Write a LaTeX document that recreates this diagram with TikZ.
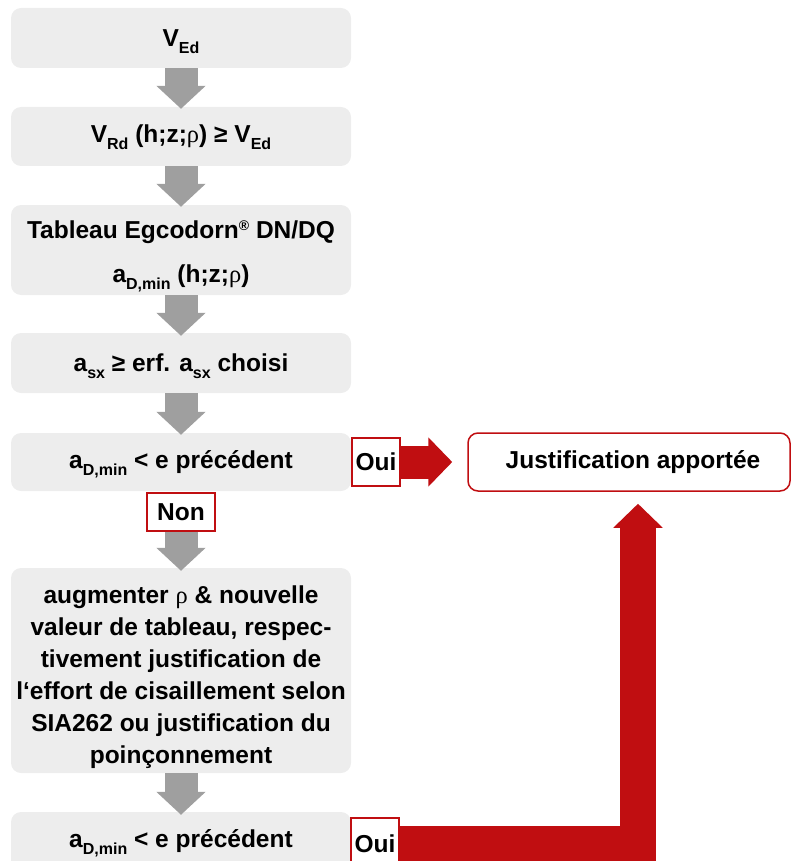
\documentclass[tikz,border=0pt]{standalone}
\usepackage{fontspec}
\setmainfont{Liberation Sans}
\newfontfamily\rhofont{Liberation Serif}
\usetikzlibrary{arrows.meta}
\definecolor{boxgray}{HTML}{EDEDED}
\definecolor{arrgray}{HTML}{9F9F9F}
\definecolor{egred}{HTML}{C00E11}
\newcommand\myrho{{\rhofont\mdseries ρ}}
\newcommand\lo[1]{\raisebox{-7pt}[0pt][0pt]{\fontsize{16}{16}\selectfont #1}}
\newcommand\regmark{\raisebox{8pt}[0pt][0pt]{\fontsize{14}{14}\selectfont ®}}
\begin{document}
\begin{tikzpicture}[x=1pt,y=-1pt,
 box/.style={fill=boxgray, rounded corners=10pt, minimum width=340pt, inner sep=0pt, align=center, font=\fontsize{24.5}{32}\selectfont\bfseries},
 tag/.style={draw=egred, line width=1.5pt, fill=white, inner sep=0pt, font=\fontsize{24.5}{28}\selectfont\bfseries},
 grayarrow/.style={draw=arrgray, line width=33pt, -{Triangle[width=48pt,length=23pt]}},
 redarrow/.style={draw=egred, line width=33pt, line join=miter, -{Triangle[width=48pt,length=24pt]}}]
\useasboundingbox (0,0) rectangle (792,861);
\clip (0,0) rectangle (792,861);

\node[box, minimum height=60pt] (b1) at (181,38) {V\lo{Ed}};
\node[box, minimum height=59pt] (b2) at (181,136.5) {V\lo{Rd} (h;z;\myrho) ≥ V\lo{Ed}};
\node[box, minimum height=90pt] (b3) at (181,250) {\rule{0pt}{26pt}Tableau Egcodorn\regmark{} DN/DQ\\[12pt] a\lo{D,min} (h;z;\myrho)};
\node[box, minimum height=60pt] (b4) at (181,363) {a\lo{sx} ≥ erf. a\lo{sx} choisi};
\node[box, minimum height=58pt] (b5) at (181,462) {a\lo{D,min} < e précédent};
\node[tag, minimum width=68pt, minimum height=38pt] (non) at (181,512) {Non};
\node[box, minimum height=205pt] (b6) at (181,670.5) {\rule{0pt}{32pt}augmenter \myrho{} \& nouvelle\\valeur de tableau, respec-\\tivement justification de\\l‘effort de cisaillement selon\\SIA262 ou justification du\\poinçonnement};
\node[box, minimum height=58pt] (b7) at (181,841) {a\lo{D,min} < e précédent};
\node[tag, minimum width=48pt, minimum height=48pt] (oui1) at (376,462) {Oui};
\node[tag, minimum width=48pt, minimum height=52pt] (oui2) at (375,844) {Oui};
\node[draw=egred, line width=1.5pt, rounded corners=10pt, minimum width=322pt, minimum height=58pt, font=\fontsize{24.5}{28}\selectfont\bfseries] (just) at (629,462) {\hspace*{8pt}Justification apportée};

\draw[grayarrow] (b1.south) -- ([yshift=-2pt]b2.north);
\draw[grayarrow] (b2.south) -- ([yshift=-2pt]b3.north);
\draw[grayarrow] (b3.south) -- ([yshift=-3pt]b4.north);
\draw[grayarrow] (b4.south) -- ([yshift=-2pt]b5.north);
\draw[grayarrow] (non.south) -- ([yshift=-3pt]b6.north);
\draw[grayarrow] (b6.south) -- ([yshift=-3pt]b7.north);

\draw[redarrow] (oui1.east) -- ([xshift=-15pt]just.west);
\draw[redarrow, line width=36pt] (oui2.east) -| ([xshift=9pt,yshift=-12pt]just.south);
\end{tikzpicture}
\end{document}
